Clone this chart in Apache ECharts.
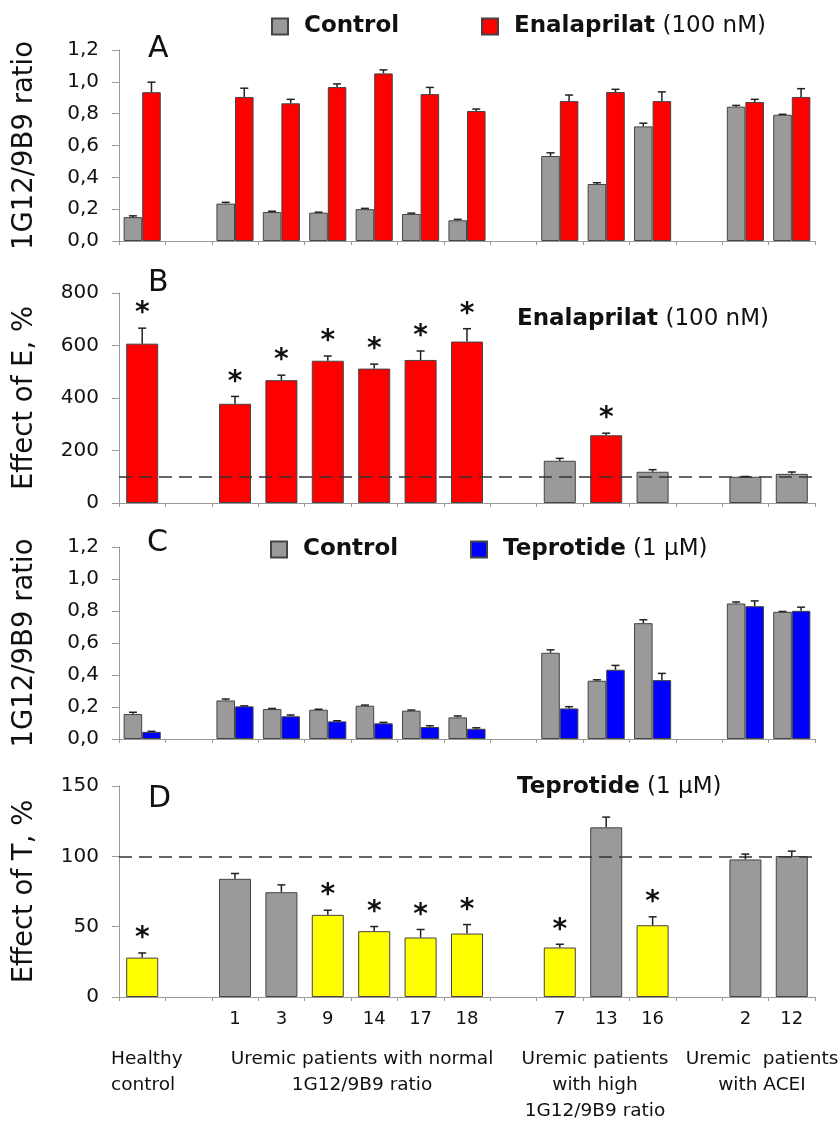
<!DOCTYPE html>
<html><head><meta charset="utf-8">
<script src="https://cdn.jsdelivr.net/npm/echarts@6/dist/echarts.min.js"></script>
<style>html,body{margin:0;padding:0;background:#fff}#c{width:840px;height:1121px}</style>
</head><body><div id="c"></div>
<script>
// x slots (blank slots separate the patient groups)
const categories = ['Healthy',' ','1','3','9','14','17','18','  ','7','13','16','   ','2','12'];
const tickLabels = ['','','1','3','9','14','17','18','','7','13','16','','2','12'];

// Panel A: 1G12/9B9 ratio, Control vs Enalaprilat
const aControl    = [0.150,null,0.235,0.182,0.178,0.200,0.170,0.130,null,0.534,0.358,0.720,null,0.844,0.793];
const aControlErr = [0.008,null,0.008,0.005,0.003,0.005,0.005,0.006,null,0.020,0.008,0.020,null,0.008,0.003];
const aEnal       = [0.935,null,0.905,0.865,0.967,1.053,0.923,0.817,null,0.879,0.936,0.879,null,0.873,0.905];
const aEnalErr    = [0.063,null,0.055,0.025,0.020,0.022,0.042,0.012,null,0.038,0.017,0.058,null,0.017,0.052];

// Panel B: effect of Enalaprilat, %
const bEffect = [607,null,378,468,542,512,545,615,null,161,258,119,null,100,111];
const bErr    = [59,null,28,19,18,17,34,49,null,9,8,8,null,1,7];
const bSig    = [1,null,1,1,1,1,1,1,null,0,1,0,null,0,0];

// Panel C: 1G12/9B9 ratio, Control vs Teprotide
const cControl    = [0.156,null,0.241,0.187,0.183,0.208,0.177,0.135,null,0.539,0.364,0.724,null,0.847,0.795];
const cControlErr = [0.011,null,0.009,0.004,0.003,0.004,0.004,0.009,null,0.018,0.006,0.021,null,0.009,0.002];
const cTep        = [0.045,null,0.204,0.142,0.110,0.098,0.075,0.064,null,0.191,0.433,0.368,null,0.830,0.801];
const cTepErr     = [0.003,null,0.003,0.008,0.004,0.006,0.008,0.006,null,0.011,0.027,0.042,null,0.033,0.023];

// Panel D: effect of Teprotide, %
const dEffect = [28.0,null,84.0,74.5,58.4,46.8,42.3,45.1,null,35.2,120.6,51.0,null,97.8,100.2];
const dErr    = [3.3,null,3.8,5.2,3.3,3.3,5.7,6.4,null,2.3,7.3,6.0,null,3.8,3.5];
const dSig    = [1,null,0,0,1,1,1,1,null,1,0,1,null,0,0];

const FONT = 'DejaVu Sans';
const INK = '#111';
const GRAY = '#9a9a9a', RED = '#ff0000', BLUE = '#0000ff', YELLOW = '#ffff00';
const BORDER = '#444';

const grids = [
  {left:119, right:25, top:50,  height:191},
  {left:119, right:25, top:293, height:210},
  {left:119, right:25, top:547, height:192},
  {left:119, right:25, top:786, height:211}
];

function xAxis(i, showLabels){
  return {
    type:'category', gridIndex:i, data:categories, boundaryGap:true,
    axisLine:{show:true, lineStyle:{color:'#999', width:1}},
    axisTick:{show:true, length:4, interval:0, lineStyle:{color:'#999'}},
    axisLabel:{show:showLabels, interval:0, margin:13, fontFamily:FONT, fontSize:18, color:INK,
      formatter:(v, idx)=>tickLabels[idx]},
    splitLine:{show:false}
  };
}
function yAxis(i, name, max, interval, decimals){
  return {
    type:'value', gridIndex:i, min:0, max:max, interval:interval,
    name:name, nameLocation:'middle', nameGap:80,
    nameTextStyle:{fontFamily:FONT, fontSize:27.5, color:INK},
    axisLine:{show:true, lineStyle:{color:'#999', width:1}},
    axisTick:{show:true, length:7, lineStyle:{color:'#999'}},
    axisLabel:{margin:20, fontFamily:FONT, fontSize:20, color:INK,
      formatter:v=>decimals? v.toFixed(decimals).replace('.', ',') : String(v)},
    splitLine:{show:false}
  };
}

function errData(vals, errs, sig){
  const out = [];
  vals.forEach((v,i)=>{ if(v!=null) out.push([i, v, errs[i], sig? sig[i] : 0]); });
  return out;
}
function errSeries(name, idx, vals, errs, sig, offsetFactor){
  return {
    type:'custom', name:name, xAxisIndex:idx, yAxisIndex:idx, silent:true, z:5,
    data:errData(vals, errs, sig), encode:{x:0, y:1},
    renderItem:(params, api)=>{
      const x = api.value(0), v = api.value(1), e = api.value(2), s = api.value(3);
      const bw = api.size([1,0])[0];
      const dx = bw*offsetFactor;
      const p1 = api.coord([x, v]);
      const p2 = api.coord([x, v+e]);
      const cx = p1[0] + dx;
      const children = [
        {type:'line', shape:{x1:cx, y1:p1[1], x2:cx, y2:p2[1]}, style:{stroke:'#222', lineWidth:1.5}},
        {type:'line', shape:{x1:cx-4, y1:p2[1], x2:cx+4, y2:p2[1]}, style:{stroke:'#222', lineWidth:1.5}}
      ];
      if (s) children.push({type:'text', style:{text:'*', x:cx, y:p2[1]-14, align:'center', verticalAlign:'middle',
        font:'bold 28px "DejaVu Sans"', fill:'#111'}});
      return {type:'group', children:children};
    }
  };
}
const barBase = {type:'bar', barGap:'0%', barCategoryGap:'20%'};

const option = {
  animation:false,
  backgroundColor:'#fff',
  grid:grids,
  xAxis:[xAxis(0,false), xAxis(1,false), xAxis(2,false), xAxis(3,true)],
  yAxis:[
    yAxis(0,'1G12/9B9 ratio',1.2,0.2,1),
    yAxis(1,'Effect of E, %',800,200,0),
    yAxis(2,'1G12/9B9 ratio',1.2,0.2,1),
    yAxis(3,'Effect of T, %',150,50,0)
  ],
  legend:[
    {left:271, top:15, padding:0, itemWidth:16, itemHeight:16, icon:'rect', data:['Control'],
      formatter:'{s|}{b|{name}}', textStyle:{rich:{s:{width:11}, b:{fontFamily:FONT, fontWeight:'bold', fontSize:23, color:INK}}}},
    {left:481, top:15, padding:0, itemWidth:16, itemHeight:16, icon:'rect', data:['Enalaprilat'],
      formatter:'{s|}{b|Enalaprilat}{r| (100 nM)}', textStyle:{rich:{s:{width:11}, b:{fontFamily:FONT, fontWeight:'bold', fontSize:23, color:INK}, r:{fontFamily:FONT, fontSize:23, color:INK}}}},
    {left:270, top:538, padding:0, itemWidth:16, itemHeight:16, icon:'rect', data:['Control'],
      formatter:'{s|}{b|{name}}', textStyle:{rich:{s:{width:11}, b:{fontFamily:FONT, fontWeight:'bold', fontSize:23, color:INK}}}},
    {left:470, top:538, padding:0, itemWidth:16, itemHeight:16, icon:'rect', data:['Teprotide'],
      formatter:'{s|}{b|Teprotide}{r| (1 μM)}', textStyle:{rich:{s:{width:11}, b:{fontFamily:FONT, fontWeight:'bold', fontSize:23, color:INK}, r:{fontFamily:FONT, fontSize:23, color:INK}}}}
  ],
  graphic:[
    {type:'text', left:148, top:34, style:{text:'A', font:'30px "DejaVu Sans"', fill:INK}},
    {type:'text', left:148, top:268, style:{text:'B', font:'30px "DejaVu Sans"', fill:INK}},
    {type:'text', left:147, top:528, style:{text:'C', font:'30px "DejaVu Sans"', fill:INK}},
    {type:'text', left:148, top:784, style:{text:'D', font:'30px "DejaVu Sans"', fill:INK}},
    {type:'text', left:517, top:308, style:{text:'{b|Enalaprilat}{r| (100 nM)}', rich:{b:{fontFamily:FONT, fontWeight:'bold', fontSize:23, fill:INK}, r:{fontFamily:FONT, fontSize:23, fill:INK}}}},
    {type:'text', left:517, top:776, style:{text:'{b|Teprotide}{r| (1 μM)}', rich:{b:{fontFamily:FONT, fontWeight:'bold', fontSize:23, fill:INK}, r:{fontFamily:FONT, fontSize:23, fill:INK}}}},
    {type:'text', left:111, top:1046, style:{text:'Healthy\ncontrol', font:'18.5px "DejaVu Sans"', lineHeight:26, fill:INK, align:'left'}},
    {type:'text', x:362, y:1046, style:{text:'Uremic patients with normal\n1G12/9B9 ratio', font:'18.5px "DejaVu Sans"', lineHeight:26, fill:INK, align:'center'}},
    {type:'text', x:595, y:1046, style:{text:'Uremic patients\nwith high\n1G12/9B9 ratio', font:'18.5px "DejaVu Sans"', lineHeight:26, fill:INK, align:'center'}},
    {type:'text', x:762, y:1046, style:{text:'Uremic  patients\nwith ACEI', font:'18.5px "DejaVu Sans"', lineHeight:26, fill:INK, align:'center'}}
  ],
  series:[
    Object.assign({}, barBase, {name:'Control', xAxisIndex:0, yAxisIndex:0, data:aControl,
      itemStyle:{color:GRAY, borderColor:BORDER, borderWidth:1}}),
    Object.assign({}, barBase, {name:'Enalaprilat', xAxisIndex:0, yAxisIndex:0, data:aEnal,
      itemStyle:{color:RED, borderColor:BORDER, borderWidth:1}}),
    errSeries('errAC', 0, aControl, aControlErr, null, -0.2),
    errSeries('errAE', 0, aEnal, aEnalErr, null, 0.2),

    {type:'bar', name:'Effect of E', xAxisIndex:1, yAxisIndex:1, barCategoryGap:'31%',
      data:bEffect.map((v,i)=> v==null? null : {value:v, itemStyle:{color: bSig[i]? RED : GRAY}}),
      itemStyle:{borderColor:BORDER, borderWidth:1},
      markLine:{silent:true, symbol:'none', label:{show:false},
        lineStyle:{color:'#333', type:[13,7], width:1.5}, data:[{yAxis:100}]}},
    errSeries('errB', 1, bEffect, bErr, bSig, 0),

    Object.assign({}, barBase, {name:'Control', xAxisIndex:2, yAxisIndex:2, data:cControl,
      itemStyle:{color:GRAY, borderColor:BORDER, borderWidth:1}}),
    Object.assign({}, barBase, {name:'Teprotide', xAxisIndex:2, yAxisIndex:2, data:cTep,
      itemStyle:{color:BLUE, borderColor:BORDER, borderWidth:1}}),
    errSeries('errCC', 2, cControl, cControlErr, null, -0.2),
    errSeries('errCT', 2, cTep, cTepErr, null, 0.2),

    {type:'bar', name:'Effect of T', xAxisIndex:3, yAxisIndex:3, barCategoryGap:'31%',
      data:dEffect.map((v,i)=> v==null? null : {value:v, itemStyle:{color: dSig[i]? YELLOW : GRAY}}),
      itemStyle:{borderColor:BORDER, borderWidth:1},
      markLine:{silent:true, symbol:'none', label:{show:false},
        lineStyle:{color:'#333', type:[13,7], width:1.5}, data:[{yAxis:100}]}},
    errSeries('errD', 3, dEffect, dErr, dSig, 0)
  ]
};
const chart = echarts.init(document.getElementById('c'), null, {renderer:'canvas'});
chart.setOption(option);
</script>
</body></html>
